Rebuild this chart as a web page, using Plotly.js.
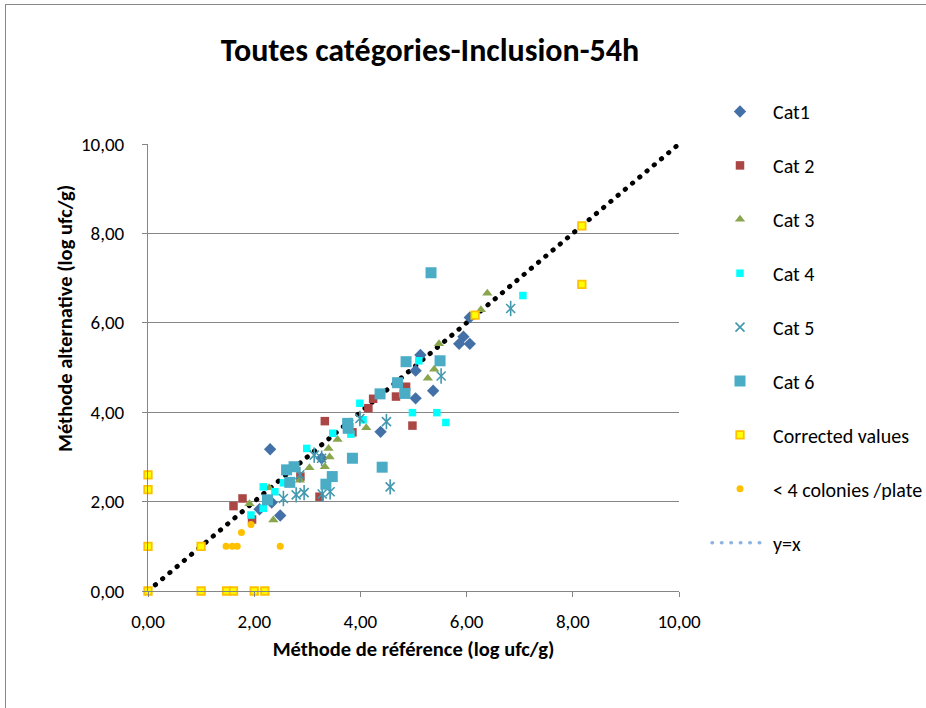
<!DOCTYPE html>
<html><head><meta charset="utf-8">
<script src="https://cdn.plot.ly/plotly-3.0.1.min.js"></script>
<style>
html,body{margin:0;padding:0;background:#fff;overflow:hidden;width:926px;height:708px;}
#chart{position:absolute;left:0;top:0;width:926px;height:708px;}
#frame{position:absolute;left:5px;top:4px;width:1000px;height:800px;border:1px solid #888;pointer-events:none;}
#chart path.js-line{stroke-linecap:round !important;}
</style></head><body>
<div id="chart"></div><div id="frame"></div>
<script>
const cat1X = [2.10, 2.33, 2.49, 2.30, 3.27, 4.38, 5.04, 5.37, 5.04, 5.13, 5.86, 6.06, 5.94, 6.06];
const cat1Y = [1.83, 1.98, 1.69, 3.17, 2.97, 3.56, 4.31, 4.48, 4.93, 5.28, 5.53, 5.53, 5.69, 6.12];
const cat2X = [1.61, 1.78, 1.96, 2.87, 3.23, 3.33, 3.85, 4.15, 4.24, 4.67, 4.86, 4.98];
const cat2Y = [1.90, 2.07, 1.60, 2.56, 2.11, 3.80, 3.55, 4.09, 4.30, 4.35, 4.57, 3.70];
const cat3X = [1.91, 2.36, 2.28, 2.86, 3.04, 3.33, 3.40, 3.42, 3.57, 4.11, 5.27, 5.39, 5.48, 6.27, 6.39];
const cat3Y = [1.95, 1.59, 2.31, 2.48, 2.76, 2.78, 3.19, 3.00, 3.39, 3.65, 4.76, 4.96, 5.53, 6.29, 6.66];
const cat4X = [1.94, 2.17, 2.17, 2.39, 2.55, 2.99, 3.48, 3.82, 4.05, 3.99, 4.80, 4.98, 5.10, 5.44, 5.61, 7.06];
const cat4Y = [1.70, 1.85, 2.33, 2.22, 2.42, 3.19, 3.53, 3.51, 3.83, 4.20, 4.42, 3.99, 5.15, 3.99, 3.77, 6.61];
const cat5X = [2.55, 2.79, 2.94, 2.86, 3.13, 3.27, 3.28, 3.43, 3.99, 4.49, 4.56, 5.52, 6.83];
const cat5Y = [2.07, 2.15, 2.20, 2.60, 3.04, 2.97, 2.17, 2.22, 3.86, 3.79, 2.33, 4.81, 6.32];
const cat6X = [2.25, 2.61, 2.67, 2.75, 3.35, 3.47, 3.76, 3.77, 3.85, 4.37, 4.41, 4.70, 4.84, 4.86, 5.33, 5.50];
const cat6Y = [2.04, 2.71, 2.43, 2.78, 2.39, 2.56, 3.75, 3.64, 2.97, 4.41, 2.77, 4.66, 4.42, 5.13, 7.12, 5.15];
const correctedX = [0, 0, 0, 0, 1.0, 1.0, 1.48, 1.61, 2.0, 2.2, 6.16, 8.17, 8.17];
const correctedY = [2.6, 2.27, 1.0, 0, 1.0, 0, 0, 0, 0, 0, 6.17, 8.17, 6.86];
const coloniesX = [1.47, 1.59, 1.68, 2.49, 1.76, 1.94];
const coloniesY = [1.0, 1.0, 1.0, 1.0, 1.31, 1.49];
const lineX = [0, 10];
const lineY = [0, 10];
const names = ['Cat1', 'Cat 2', 'Cat 3', 'Cat 4', 'Cat 5', 'Cat 6', 'Corrected values', '< 4 colonies /plate', 'y=x'];
const tickVals = [0, 2, 4, 6, 8, 10];

const FONT = "Carlito, Lato, 'Liberation Sans', sans-serif";
const DASH = '0.5px,8.95px';

function pts(x, y, name, rank, marker, extra) {
  return Object.assign({type: 'scatter', mode: 'markers', x: x, y: y, name: name,
    legendrank: rank, legendgroup: 'g' + rank, marker: marker, cliponaxis: false}, extra || {});
}

const traces = [
  {type: 'scatter', mode: 'lines', x: lineX, y: lineY, name: names[8], legendrank: 9, legendgroup: 'g9',
   line: {color: '#8DB4E2', width: 3.5, dash: DASH}, cliponaxis: false},
  {type: 'scatter', mode: 'lines', x: lineX, y: lineY, name: names[8], showlegend: false, legendgroup: 'g9',
   line: {color: '#000000', width: 4.8, dash: DASH}, cliponaxis: false},
  pts(cat1X, cat1Y, names[0], 1, {symbol: 'diamond', size: 9.5, color: '#4470A8'}),
  pts(cat2X, cat2Y, names[1], 2, {symbol: 'square', size: 8.5, color: '#AA4643'}),
  pts(cat3X, cat3Y, names[2], 3, {symbol: 'triangle-up', size: 9, color: '#89A54E'}),
  pts(cat4X, cat4Y, names[3], 4, {symbol: 'square', size: 7.5, color: '#00FFFF'}),
  pts(cat5X, cat5Y, names[4], 5, {symbol: 'x-thin-open', size: 9, line: {color: '#4198AF', width: 1.6}, color: '#4198AF'}),
  pts(cat5X, cat5Y, names[4], 5, {symbol: 'line-ns-open', size: 11, line: {color: '#4198AF', width: 1.6}, color: '#4198AF'}, {showlegend: false}),
  pts(cat6X, cat6Y, names[5], 6, {symbol: 'square', size: 11, color: '#4BACC6'}),
  pts(coloniesX, coloniesY, names[7], 8, {symbol: 'circle', size: 7, color: '#FFC000'}),
  pts(correctedX, correctedY, names[6], 7, {symbol: 'square', size: 7.5, color: '#FFFF00', line: {color: '#FFC000', width: 1.8}})
];

const axisCommon = {
  range: [0, 10], tickvals: tickVals, tickformat: '.2f', zeroline: false,
  showline: true, linecolor: '#868686', linewidth: 1,
  ticks: 'outside', ticklen: 5, tickcolor: '#868686',
  tickfont: {family: FONT, size: 19, color: '#000'}, fixedrange: true
};

const layout = {
  width: 926, height: 708,
  margin: {l: 148, r: 247, t: 144, b: 117, autoexpand: false},
  paper_bgcolor: 'rgba(0,0,0,0)', plot_bgcolor: 'rgba(0,0,0,0)',
  separators: ', ',
  font: {family: FONT, color: '#000'},
  title: {text: '<b>Toutes catégories-Inclusion-54h</b>', font: {family: FONT, size: 32, color: '#000'},
          x: 430 / 926, xref: 'container', xanchor: 'center', y: 1 - 50 / 708, yref: 'container', yanchor: 'middle'},
  xaxis: Object.assign({}, axisCommon, {showgrid: false, ticklabelstandoff: 8,
          title: {text: '<b>Méthode de référence (log ufc/g)</b>', font: {family: FONT, size: 20.5, color: '#000'}, standoff: 9}}),
  yaxis: Object.assign({}, axisCommon, {showgrid: true, gridcolor: '#868686', gridwidth: 1, ticklabelstandoff: 14}),
  annotations: [{text: '<b>Méthode alternative (log ufc/g)</b>', textangle: -90, xref: 'paper', yref: 'paper',
                 x: (65 - 148) / 531, y: (591 - 319) / 447, xanchor: 'center', yanchor: 'middle', showarrow: false,
                 font: {family: FONT, size: 20.5, color: '#000'}}],
  legend: {x: (707 - 148) / 531, xanchor: 'left', y: (591 - 92) / 447, yanchor: 'top',
           traceorder: 'grouped', tracegroupgap: 24.9, itemwidth: 56, maxheight: 1,
           font: {family: FONT, size: 20, color: '#000'}, bgcolor: 'rgba(0,0,0,0)'},
  showlegend: true
};

Plotly.newPlot('chart', traces, layout, {staticPlot: true, displayModeBar: false});
</script>
</body></html>
